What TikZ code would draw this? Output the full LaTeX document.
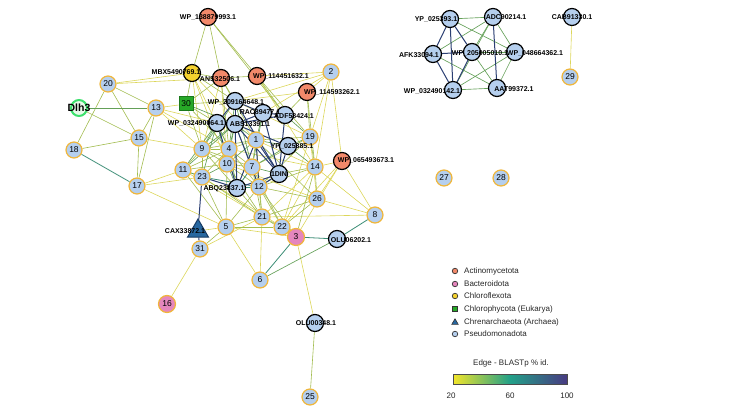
\documentclass[tikz,border=0pt]{standalone}
\usepackage{fontspec}
\setmainfont{Liberation Sans}
\usetikzlibrary{shapes.geometric}
\pgfdeclarelayer{bg}
\pgfsetlayers{bg,main}
\definecolor{nblue}{HTML}{B5CFEE}
\definecolor{nbord}{HTML}{F0B63A}
\definecolor{actc}{HTML}{F2896A}
\definecolor{pinkc}{HTML}{E586BD}
\definecolor{yelc}{HTML}{F5D22F}
\definecolor{sqc}{HTML}{27A827}
\definecolor{sqb}{HTML}{1B7A1B}
\definecolor{tric}{HTML}{2767A0}
\definecolor{trib}{HTML}{173A63}
\definecolor{dlhb}{HTML}{3DE06D}
\definecolor{dlhf}{HTML}{E8FBEA}
\definecolor{cy}{HTML}{DCD65A}
\definecolor{cyg}{HTML}{A2BC4E}
\definecolor{cg}{HTML}{64A058}
\definecolor{ct}{HTML}{3A8C74}
\definecolor{cd}{HTML}{2B3F73}
\definecolor{cby}{HTML}{F2E52A}
\definecolor{cbt}{HTML}{22A088}
\definecolor{cbp}{HTML}{483A82}
\newcommand\fsz[1]{\fontsize{#1}{#1}\selectfont}
\begin{document}
\begin{tikzpicture}[x=1pt,y=-1pt,
  numn/.style={circle,draw=nbord,fill=nblue,line width=1.2pt,minimum size=16pt,inner sep=0pt,font=\fsz{8.5}},
  refn/.style={circle,draw=black,fill=nblue,line width=1.2pt,minimum size=17pt,inner sep=0pt},
  actn/.style={circle,draw=black,fill=actc,line width=1.2pt,minimum size=17pt,inner sep=0pt},
  pinkn/.style={circle,draw=nbord,fill=pinkc,line width=1.2pt,minimum size=17pt,inner sep=0pt,font=\fsz{8.5}},
  lbl/.style={inner sep=0pt,font=\bfseries\fsz{7}},
  ey/.style={cy,line width=0.6pt},
  eyg/.style={cyg,line width=0.6pt},
  eg/.style={cg,line width=0.65pt},
  et/.style={ct,line width=0.8pt},
  ed/.style={cd,line width=1pt},
  legt/.style={inner sep=0pt,anchor=west,font=\fsz{8},text=black!85}]
\useasboundingbox (0,0) rectangle (733,414);
% ---------- nodes ----------
\node[actn] (W138) at (208,17) {};
\node[circle,draw=black,fill=yelc,line width=1.2pt,minimum size=17pt,inner sep=0pt] (MBX) at (192,73) {};
\node[actn] (ANS) at (221,78) {};
\node[actn] (W1144) at (257,76) {};
\node[numn] (n2) at (331,72) {2};
\node[actn] (W1145) at (307,92) {};
\node[numn] (n20) at (108,84) {20};
\node[circle,draw=dlhb,fill=dlhf,line width=2pt,minimum size=16pt,inner sep=0pt] (Dlh3) at (79,108) {};
\node[numn] (n13) at (156,108) {13};
\node[rectangle,draw=sqb,fill=sqc,line width=1pt,minimum size=14pt,inner sep=0pt,font=\fsz{8.5}] (n30) at (186,104) {30};
\node[refn] (W209) at (235,101) {};
\node[refn] (W064) at (217,123) {};
\node[refn] (ABS) at (235,124) {};
\node[refn] (RAC) at (263,113) {};
\node[refn] (ADF) at (285,115) {};
\node[numn] (n19) at (310,137) {19};
\node[numn] (n1) at (256,140) {1};
\node[refn] (YP385) at (288,146) {};
\node[numn] (n15) at (139,138) {15};
\node[numn] (n18) at (74,150) {18};
\node[numn] (n9) at (202,149) {9};
\node[numn] (n4) at (229,149) {4};
\node[numn] (n10) at (227,164) {10};
\node[numn] (n7) at (252,167) {7};
\node[refn,font=\bfseries\fsz{7}] (DIN) at (279,174) {1DIN};
\node[numn] (n14) at (315,167) {14};
\node[actn] (W065) at (342,161) {};
\node[numn] (n11) at (183,170) {11};
\node[numn] (n23) at (202,177) {23};
\node[refn] (ABQ) at (237,188) {};
\node[numn] (n12) at (259,187) {12};
\node[numn] (n17) at (137,186) {17};
\node[numn] (n26) at (317,199) {26};
\node[numn] (n8) at (375,215) {8};
\node[numn] (n21) at (262,217) {21};
\node[numn] (n22) at (282,227) {22};
\node[numn] (n5) at (226,227) {5};
\node[regular polygon,regular polygon sides=3,draw=trib,fill=tric,line width=1pt,minimum size=24pt,inner sep=0pt] (CAX) at (198,231) {};
\node[pinkn] (n3) at (296,237) {3};
\node[refn] (OLU62) at (337,239) {};
\node[numn] (n31) at (200,249) {31};
\node[numn] (n6) at (260,280) {6};
\node[pinkn] (n16) at (167,304) {16};
\node[refn] (OLU48) at (315,323) {};
\node[numn] (n25) at (310,397) {25};
\node[numn] (n27) at (444,178) {27};
\node[numn] (n28) at (501,178) {28};
% right cluster
\node[refn] (YP393) at (450,19) {};
\node[refn] (ADC) at (493,17) {};
\node[refn] (CAB) at (572,17) {};
\node[numn] (n29) at (570,77) {29};
\node[refn] (AFK) at (433,54) {};
\node[refn] (W205) at (472,52) {};
\node[refn] (W048) at (515,52) {};
\node[refn] (W142) at (453,90) {};
\node[refn] (AAT) at (497,88) {};
% ---------- labels ----------
\node[lbl] (lW138) at (208,17) {WP\_138879993.1};
\node[lbl] (lMBX) at (176,72) {MBX5490769.1};
\node[lbl] (lANS) at (220,79) {ANS32506.1};
\node[lbl] (lW1144) at (281,76) {WP\_114451632.1};
\node[lbl] (lW1145) at (332,92) {WP\_114593262.1};
\node[inner sep=0pt,font=\bfseries\fsz{10.5}] (lDlh3) at (79,108) {Dlh3};
\node[lbl] (lW209) at (236,102) {WP\_209164648.1};
\node[lbl] (lW064) at (196,123) {WP\_032490064.1};
\node[lbl] (lABS) at (250,124) {ABS13391.1};
\node[lbl] (lRAC) at (260,112) {RAC89477.1};
\node[lbl] (lADF) at (294,116) {ADF58424.1};
\node[lbl] (lYP385) at (292,146) {YP\_025385.1};
\node[lbl] (lW065) at (366,160) {WP\_065493673.1};
\node[lbl] (lABQ) at (224,189) {ABQ23837.1};
\node[lbl] (lCAX) at (185,231) {CAX33872.1};
\node[lbl] (lOLU62) at (351,240) {OLU06202.1};
\node[lbl] (lOLU48) at (316,323) {OLU00348.1};
\node[lbl] (lYP393) at (436,19) {YP\_025393.1};
\node[lbl] (lADC) at (506,17) {ADC90214.1};
\node[lbl] (lCAB) at (572,17) {CAB91330.1};
\node[lbl] (lAFK) at (419,55) {AFK33094.1};
\node[lbl] (lW205) at (480,53) {WP\_205005010.1};
\node[lbl] (lW048) at (535,53) {WP\_048664362.1};
\node[lbl] (lW142) at (432,91) {WP\_032490142.1};
\node[lbl] (lAAT) at (514,89) {AAT99372.1};
% ---------- edges ----------
\begin{pgfonlayer}{bg}
\foreach \a/\b in {n20/MBX,n13/n30,n15/n9,n17/n5,n31/n16,n3/OLU48,n2/W1144,n2/W1145,n2/RAC,n2/n14,n2/W209,n2/W065,W1145/W209,n14/W065,n14/n8,W065/n26,W065/n22,W065/n8,W065/n3,n8/n21,n8/n26,n6/n5,n6/n21,n31/n21,MBX/n9,MBX/n4,MBX/n1,ANS/n9,ANS/n10,n13/W064,CAX/n5,n5/n3,n21/n14,n22/n14,n19/n26,n19/n22,n1/n14,W209/n19,W1144/n14,n11/n17,n9/n13,n2/n19,n17/n23,n23/n22,n11/n21,n4/n14,n10/n26,MBX/n10,n20/ANS,n13/n4}
  \draw[ey] (\a) -- (\b);
\foreach \a/\b in {W138/MBX,W138/ANS,W138/W1144,W138/ADF,n20/n13,n20/n15,n20/n18,Dlh3/n15,n13/n15,n13/n17,n15/n17,n15/n18,n30/W064,n30/W209,n30/n9,n30/n4,n30/ANS,n30/MBX,MBX/ANS,MBX/W209,ANS/W1144,ANS/W209,ANS/n1,ANS/n4,W1144/ADF,W1144/n19,W1145/ADF,W1145/n19,W1145/n14,n14/n26,n14/n12,n14/DIN,n14/n3,n26/n21,n26/n12,n21/n22,n21/n12,n22/n12,n5/n21,n5/n22,n5/n12,n5/n10,n5/n23,n23/n11,n23/n9,n11/n9,n9/n4,n9/n10,n4/n10,n4/n1,n4/n7,n10/n7,n7/n12,n7/n1,n11/n4,n11/n10,n9/n1,n19/n1,n19/n7,n19/n12,n3/n22,n3/n21,OLU48/n25,n31/n5,n22/n26,n12/n10,n23/n4,n9/n7,n4/n12,n10/n21,n9/n21,n23/n21,n7/n21,n1/n21,n11/n5,n19/n14,n7/n22,n12/n3,n1/n26}
  \draw[eyg] (\a) -- (\b);
\foreach \a/\b in {Dlh3/n13,n6/OLU62,n1/n10,n4/ABS,n9/W064,n1/ABS,n7/ABS,n10/ABS,n9/ABS,n4/W064,n1/YP385,n7/DIN,n12/DIN,n19/ADF,n1/RAC,n4/W209,n9/W209,n10/W064,n11/W064,n7/RAC,n4/ABQ,n10/ABQ,n23/W064,n11/ABS,n7/W209,n30/ABS,n19/YP385,n14/YP385,n7/YP385,n10/n23,n11/n23}
  \draw[eg] (\a) -- (\b);
\foreach \a/\b in {n18/n17,n3/OLU62,n3/n6,n8/OLU62,n23/n12,n12/ABQ,n7/ABQ}
  \draw[et] (\a) -- (\b);
\foreach \a/\b in {n23/CAX,CAX/n31,n23/ABQ,ABQ/n1,ABQ/ABS,ABQ/DIN,ABQ/W064,n12/n1,DIN/n1,DIN/ABS,DIN/RAC,DIN/W209,DIN/YP385,DIN/ADF,ABS/W064,ABS/W209,ABS/RAC,RAC/W209,RAC/ADF,W064/W209,YP385/ABS,ADF/ABS,n12/ABS,DIN/n12}
  \draw[ed] (\a) -- (\b);
% right cluster
\foreach \a/\b in {YP393/ADC,YP393/W048,AFK/ADC,AFK/AAT,W142/AAT,W142/W048,ADC/W048,ADC/W205,W205/AAT,W205/W048,W048/AAT,W142/ADC}
  \draw[eg] (\a) -- (\b);
\foreach \a/\b in {YP393/AFK,YP393/W142,YP393/W205,AFK/W142,W205/W142,ADC/AAT,AFK/W205}
  \draw[ed] (\a) -- (\b);
\draw[ey] (CAB) -- (n29);
\end{pgfonlayer}
% ---------- legend ----------
\node[circle,draw=black!80,fill=actc,line width=0.7pt,minimum size=5.5pt,inner sep=0pt] (m1) at (455,271) {};
\node[legt] (t1) at (464,271) {Actinomycetota};
\node[circle,draw=black!80,fill=pinkc,line width=0.7pt,minimum size=5.5pt,inner sep=0pt] (m2) at (455,284) {};
\node[legt] (t2) at (464,284) {Bacteroidota};
\node[circle,draw=black!80,fill=yelc,line width=0.7pt,minimum size=5.5pt,inner sep=0pt] (m3) at (455,296) {};
\node[legt] (t3) at (464,296) {Chloroflexota};
\node[rectangle,draw=black!80,fill=sqc,line width=0.7pt,minimum size=5pt,inner sep=0pt] (m4) at (455,309) {};
\node[legt] (t4) at (464,309) {Chlorophycota (Eukarya)};
\node[regular polygon,regular polygon sides=3,draw=black!80,fill=tric,line width=0.6pt,minimum size=7.5pt,inner sep=0pt] (m5) at (455,322.5) {};
\node[legt] (t5) at (464,322) {Chrenarchaeota (Archaea)};
\node[circle,draw=black!80,fill=nblue,line width=0.7pt,minimum size=5.5pt,inner sep=0pt] (m6) at (455,334) {};
\node[legt] (t6) at (464,334) {Pseudomonadota};
\node[inner sep=0pt,font=\fsz{8},text=black!85] (ctitle) at (511,363) {Edge - BLASTp \% id.};
\shade[left color=cby,right color=cbp,middle color=cbt] (453,374) rectangle (567,384);
\draw[black!70,line width=0.6pt] (453,374) rectangle (567,384);
\node[inner sep=0pt,font=\fsz{8},text=black!85] (c20) at (451,396) {20};
\node[inner sep=0pt,font=\fsz{8},text=black!85] (c60) at (510,396) {60};
\node[inner sep=0pt,font=\fsz{8},text=black!85] (c100) at (567,396) {100};
\end{tikzpicture}
\end{document}
